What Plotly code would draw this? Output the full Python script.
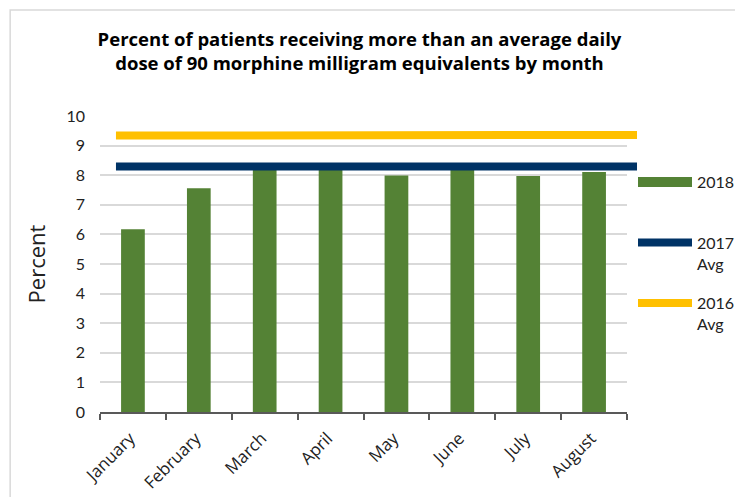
import plotly.graph_objects as go

months = ["January", "February", "March", "April", "May", "June", "July", "August"]
pct_2018 = [6.17, 7.56, 8.22, 8.24, 7.99, 8.21, 7.97, 8.11]
avg_2017 = [8.29, 8.29, 8.29, 8.29, 8.29, 8.29, 8.29, 8.29]
avg_2016 = [9.34, 9.34, 9.35, 9.35, 9.35, 9.35, 9.36, 9.36]
y_ticks = [0, 1, 2, 3, 4, 5, 6, 7, 8, 9, 10]

FONT = "Lato"
FONT2 = "Open Sans"
W, H = 743, 497
# page body has an 8px margin; positions below are in figure pixels
ML, MR, MT, MB = 92, 111, 108, 93
plot_w = W - ML - MR
plot_h = H - MT - MB

GREEN, NAVY, GOLD = "#548235", "#003366", "#FFC000"

fig = go.Figure()
fig.add_trace(go.Bar(
    x=months, y=pct_2018, name="2018",
    marker=dict(color=GREEN, line=dict(width=0)),
    showlegend=False, xaxis="x", yaxis="y",
))
# legend entry for the bars (wide swatch like the original)
fig.add_trace(go.Scatter(
    x=[None], y=[None], name="2018<br>\u00a0", mode="lines",
    line=dict(color=GREEN, width=12), legendgroup="a",
    xaxis="x", yaxis="y", hoverinfo="skip",
))
fig.add_trace(go.Scatter(
    x=months, y=avg_2017, name="2017<br>Avg", mode="lines",
    line=dict(color=NAVY, width=8), legendgroup="b",
    xaxis="x2", yaxis="y2",
))
fig.add_trace(go.Scatter(
    x=months, y=avg_2016, name="2016<br>Avg", mode="lines",
    line=dict(color=GOLD, width=8), legendgroup="c",
    xaxis="x2", yaxis="y2",
))

fig.update_layout(
    template="none",
    width=W, height=H,
    margin=dict(l=ML, r=MR, t=MT, b=MB),
    paper_bgcolor="white", plot_bgcolor="rgba(0,0,0,0)",
    font=dict(family=FONT, size=16, color="#222222"),
    bargap=0.64,
    title=dict(
        text="<b>Percent of patients receiving more than an average daily<br>dose of 90 morphine milligram equivalents by month</b>",
        x=351.5 / W, xanchor="center", xref="container",
        y=1 - 38 / H, yanchor="top", yref="container",
        font=dict(family=FONT2, size=18.5, color="#000000"),
    ),
    xaxis=dict(
        domain=[0, 528 / plot_w], type="category", automargin=False,
        showgrid=False, showline=True, linecolor="#595959", linewidth=1.5,
        ticks="outside", tickson="boundaries", ticklen=6, tickcolor="#595959", tickwidth=1.5,
        tickangle=-45, tickfont=dict(family=FONT2, size=17, color="#222222"),
        ticklabelstandoff=8, ticklabelshift=-3,
        anchor="y", zeroline=False,
    ),
    yaxis=dict(
        range=[0, 10], tickvals=y_ticks, automargin=False,
        showgrid=True, gridcolor="#D9D9D9", gridwidth=1.5,
        zeroline=False, showline=False, ticks="", ticklabelstandoff=14,
        tickfont=dict(family=FONT, size=16, color="#222222"),
        title=dict(text="Percent", font=dict(family=FONT2, size=22, color="#222222"), standoff=14),
        anchor="x",
    ),
    xaxis2=dict(
        domain=[0, 1], type="category", range=[-0.2146, 7.0268], automargin=False,
        visible=False, anchor="y2", showgrid=False,
    ),
    yaxis2=dict(
        domain=[0, 1], range=[0, 10], visible=False, anchor="x2", showgrid=False,
        zeroline=False, automargin=False,
    ),
    legend=dict(
        x=(625 - ML) / plot_w, xanchor="left", y=1 - (157 - MT) / plot_h, yanchor="top",
        traceorder="grouped", tracegroupgap=16, valign="top",
        font=dict(family=FONT, size=16, color="#222222"),
        bgcolor="rgba(0,0,0,0)", borderwidth=0, itemwidth=54,
    ),
    showlegend=True,
)

# chart border
fig.add_shape(type="rect", xref="paper", yref="paper",
              x0=(2 - ML) / plot_w, x1=(731 - ML) / plot_w,
              y0=-(H + 5 - (H - MB)) / plot_h, y1=1 + (MT - 2) / plot_h,
              line=dict(color="#D9D9D9", width=1.5), fillcolor="rgba(0,0,0,0)", layer="below")

fig.write_html("out.html")
